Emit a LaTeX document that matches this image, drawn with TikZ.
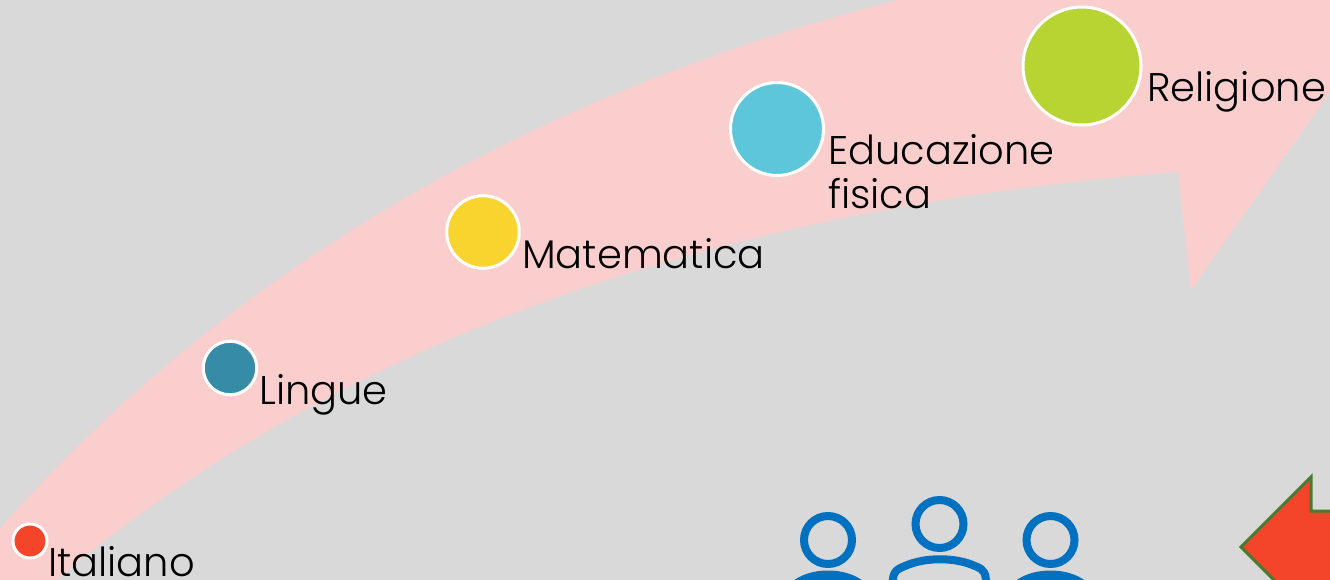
\documentclass[tikz,border=0pt]{standalone}
\usepackage{fontspec}
\setmainfont{Poppins}[UprightFont=* Light]
\definecolor{bg}{HTML}{D9D9D9}
\definecolor{band}{HTML}{FBCECE}
\definecolor{icon}{HTML}{0070C0}
\definecolor{redc}{HTML}{F44429}
\definecolor{tealc}{HTML}{368BA6}
\definecolor{yelc}{HTML}{F9D42E}
\definecolor{bluc}{HTML}{5EC6DA}
\definecolor{grnc}{HTML}{B8D433}
\definecolor{edgeg}{HTML}{4A7A30}
\tikzset{
  dot/.style={circle,draw=white,line width=3pt,inner sep=0pt},
  lab/.style={anchor=base west,inner sep=0pt,text=black,font=\fontsize{40}{44}\selectfont,align=left},
  ico/.style={draw=icon,line width=8pt,fill=none}
}
\begin{document}
\begin{tikzpicture}[x=1pt,y=-1pt]
\useasboundingbox (0,0) rectangle (1330,580);
\fill[bg] (0,0) rectangle (1330,580);
\begin{scope}
\clip (0,0) rectangle (1330,580);
\fill[band] (-20,552) .. controls (200,290) and (520,90) .. (930,-8)
  -- (920,-60) -- (1400,-60) -- (1400,-7) -- (1191,290) -- (1178,172)
  .. controls (760,205) and (340,320) .. (10,620) -- cycle;
\draw[ico] (828,540) circle (24);
\draw[ico] (939.5,524) circle (24);
\draw[ico] (1050.5,540) circle (24);
\fill[icon] (785,590) .. controls (800,564) and (856,564) .. (871,590) -- cycle;
\fill[icon] (1007.5,590) .. controls (1022.5,564) and (1078.5,564) .. (1093.5,590) -- cycle;
\draw[ico] (892.5,590) .. controls (892,572) and (895,570) .. (905,566) .. controls (925,557) and (955,557) .. (975,566) .. controls (985,570) and (986,572) .. (986.5,590);
\draw[draw=edgeg,fill=redc,line width=3pt,line join=miter] (1345,511) -- (1311,511) -- (1311,477) -- (1241,547) -- (1290,596) -- (1345,596) -- cycle;
\end{scope}
\node[dot,fill=redc,minimum size=34pt] (n1) at (30,541) {};
\node[dot,fill=tealc,minimum size=53.5pt] (n2) at (230,368) {};
\node[dot,fill=yelc,minimum size=72.5pt] (n3) at (483,232) {};
\node[dot,fill=bluc,minimum size=93pt] (n4) at (777,129) {};
\node[dot,fill=grnc,minimum size=118pt] (n5) at (1082,66) {};
\node[lab] (t1) at (48,576) {Italiano};
\node[lab] (t2) at (259,404) {Lingue};
\node[lab] (t3) at (522,268) {Matematica};
\node[lab] (t4) at (828,209) {Educazione\\fisica};
\node[lab] (t5) at (1147,102) {Religione};
\end{tikzpicture}
\end{document}
